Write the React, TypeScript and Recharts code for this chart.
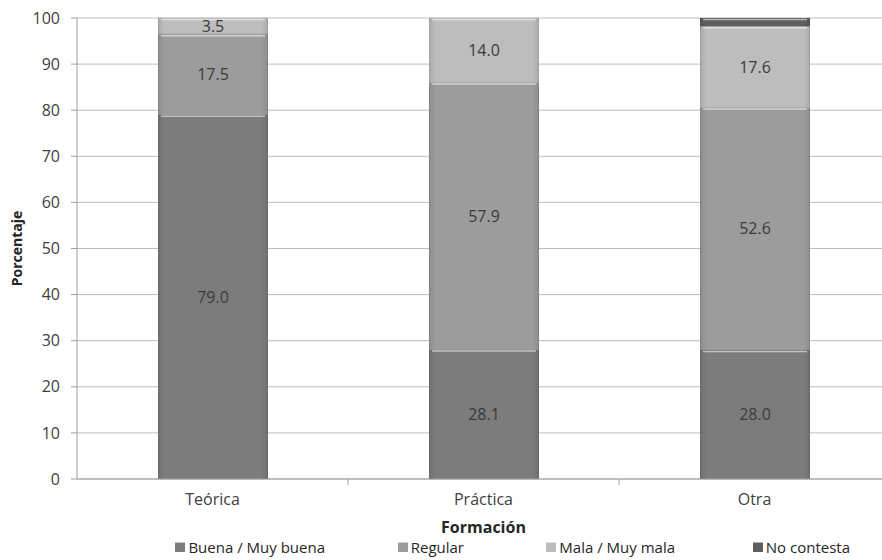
import React from 'react'
import { BarChart, Bar, XAxis, YAxis, CartesianGrid, LabelList } from 'recharts'

const categories = ['Teórica', 'Práctica', 'Otra']
const buena = [79.0, 28.1, 28.0]
const regular = [17.5, 57.9, 52.6]
const mala = [3.5, 14.0, 17.6]
const noContesta = [0, 0, 1.8]
const yTicks = [0, 10, 20, 30, 40, 50, 60, 70, 80, 90, 100]

const series = [
  { key: 'buena', name: 'Buena / Muy buena', color: '#7c7c7c', label: true },
  { key: 'regular', name: 'Regular', color: '#9c9c9c', label: true },
  { key: 'mala', name: 'Mala / Muy mala', color: '#bdbdbd', label: true },
  { key: 'noContesta', name: 'No contesta', color: '#5f5f5f', label: false },
]

// right end of each legend entry
const legendEnds = [325, 464, 675, 850]

const data = categories.map((c, i) => ({
  name: c,
  buena: buena[i],
  regular: regular[i],
  mala: mala[i],
  noContesta: noContesta[i],
}))

const font = '"Open Sans", Lato, sans-serif'
const textColor = '#404040'

// bar segment with a light bevel line along the top edge
const BevelBar = (props: any) => {
  const { x, y, width, height, fill } = props
  if (!height || height <= 0) return null
  return (
    <g>
      <rect x={x} y={y} width={width} height={height} fill={fill} />
      <rect x={x} y={y} width={width} height={height} fill="url(#edgeShade)" />
      <line x1={x + 3} x2={x + width - 3} y1={y + 1.5} y2={y + 1.5} stroke="#ffffff" strokeOpacity={0.55} strokeWidth={1.5} />
      <rect x={x + 0.5} y={y} width={width - 1} height={height} fill="none" stroke="#000" strokeOpacity={0.08} />
    </g>
  )
}

const TICK_GAP = 15

// category tick: label plus a small tick mark on the boundary to the right
const CatTick = (props: any) => {
  const { x, y, payload, index } = props
  const half = payload && payload.offset ? payload.offset : 135.5
  const axisY = y - TICK_GAP
  return (
    <g>
      {index < categories.length - 1 && (
        <line x1={x + half} x2={x + half} y1={axisY} y2={axisY + 6} stroke="#a0a0a0" />
      )}
      <text x={x} y={y} dy="0.71em" textAnchor="middle" fontSize={16} fill={textColor} fontFamily={font}>
        {payload.value}
      </text>
    </g>
  )
}

const fmt = (v: any) => (v ? Number(v).toFixed(1) : '')

export default function App() {
  return (
    <div style={{ position: 'absolute', left: 0, top: 0, width: 882, height: 560, overflow: 'hidden', background: '#fff', fontFamily: font }}>
      <BarChart
        width={890}
        height={560}
        data={data}
        margin={{ top: 18, right: 0, left: 0, bottom: 27 }}
        barSize={110}
      >
        <defs>
          <linearGradient id="edgeShade" x1="0" y1="0" x2="1" y2="0">
            <stop offset="0%" stopColor="#000" stopOpacity={0.1} />
            <stop offset="6%" stopColor="#000" stopOpacity={0} />
            <stop offset="94%" stopColor="#000" stopOpacity={0} />
            <stop offset="100%" stopColor="#000" stopOpacity={0.1} />
          </linearGradient>
        </defs>
        <CartesianGrid vertical={false} stroke="#bdbdbd" strokeWidth={1} />
        <XAxis
          dataKey="name"
          height={54}
          stroke="#a0a0a0"
          tickLine={false}
          tickSize={0}
          tickMargin={TICK_GAP}
          tick={CatTick}
          label={{ value: 'Formación', position: 'insideBottom', offset: 0, style: { fontSize: 16, fontWeight: 700, fill: '#262626', fontFamily: font } }}
        />
        <YAxis
          width={77}
          domain={[0, 100]}
          ticks={yTicks}
          interval={0}
          stroke="#a0a0a0"
          tickSize={6}
          tickMargin={11}
          tick={{ fontSize: 16, fill: textColor, fontFamily: font }}
          label={{ value: 'Porcentaje', angle: -90, position: 'insideLeft', offset: 17, style: { textAnchor: 'middle', fontSize: 14, fontWeight: 700, fill: '#262626', fontFamily: font } }}
        />
        {series.map((s) => (
          <Bar key={s.key} dataKey={s.key} name={s.name} stackId="a" fill={s.color} shape={BevelBar} isAnimationActive={false}>
            {s.label && (
              <LabelList dataKey={s.key} position="center" formatter={fmt} style={{ fontSize: 16, fill: '#3a3a3a', fontFamily: font }} />
            )}
          </Bar>
        ))}
      </BarChart>
      <div style={{ position: 'absolute', top: 538, left: 0, width: 882, height: 18, fontSize: 15, lineHeight: '18px', color: '#262626' }}>
        {series.map((s, i) => (
          <div key={s.key} style={{ position: 'absolute', right: 882 - legendEnds[i], top: 0, display: 'flex', alignItems: 'center', whiteSpace: 'nowrap' }}>
            <span style={{ display: 'inline-block', width: 10, height: 10, background: s.color, marginRight: 3, boxShadow: 'inset 0 1px 0 rgba(255,255,255,0.5)' }} />
            {s.name}
          </div>
        ))}
      </div>
    </div>
  )
}
